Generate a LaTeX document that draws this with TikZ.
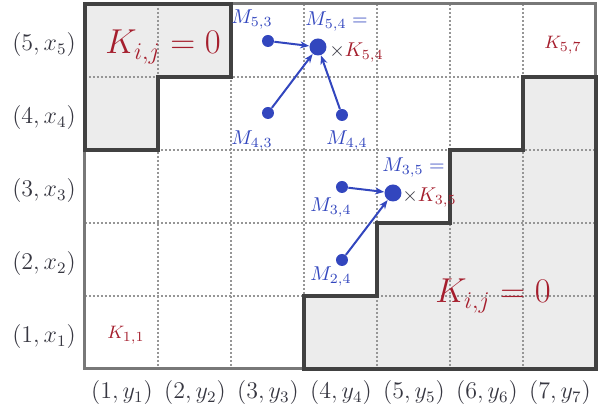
\documentclass[tikz,border=0pt]{standalone}
\usetikzlibrary{arrows.meta}
\definecolor{mblue}{RGB}{50,70,190}
\definecolor{kred}{RGB}{165,30,45}
\definecolor{zfill}{RGB}{236,236,236}
\definecolor{edgegray}{RGB}{120,120,120}
\definecolor{stairgray}{RGB}{65,65,65}
\definecolor{gridgray}{RGB}{150,150,150}
\definecolor{axistext}{RGB}{55,55,65}
\begin{document}
\begin{tikzpicture}[x=0.5pt,y=-0.5pt,
  gridline/.style={gridgray, densely dotted, line width=1pt},
  border/.style={edgegray, line width=1.5pt},
  stair/.style={stairgray, line width=1.6pt, line join=miter},
  smalldot/.style={circle, fill=mblue, inner sep=0pt, minimum size=6pt},
  bigdot/.style={circle, fill=mblue, inner sep=0pt, minimum size=8.5pt},
  conn/.style={mblue, line width=1pt, -{Stealth[length=4.5pt,width=3.5pt]}},
  axlabel/.style={text=axistext, font=\fontsize{11.5}{13}\selectfont, inner sep=0pt},
  mlabel/.style={text=mblue, font=\fontsize{10}{12}\selectfont, inner sep=0pt},
  klabel/.style={text=kred, font=\fontsize{9.5}{11}\selectfont, inner sep=0pt},
  kbig/.style={text=kred, font=\fontsize{17}{20}\selectfont, inner sep=0pt},
  ktimes/.style={text=axistext, font=\fontsize{10}{12}\selectfont, inner sep=0pt}
]
\useasboundingbox (0,0) rectangle (602,410);
% zero regions
\fill[zfill] (85,150) -- (85,4) -- (231,4) -- (231,77) -- (158,77) -- (158,150) -- cycle;
\fill[zfill] (304,369) -- (304,296) -- (377,296) -- (377,223) -- (450,223) -- (450,150)
  -- (523,150) -- (523,77) -- (596,77) -- (596,369) -- cycle;
% grid
\foreach \x in {158,231,304,377,450,523} \draw[gridline] (\x,4) -- (\x,369);
\foreach \y in {77,150,223,296} \draw[gridline] (85,\y) -- (596,\y);
% border
\draw[border] (85,4) rectangle (596,369);
% staircases
\draw[stair] (85,150) -- (85,4) -- (231,4) -- (231,77) -- (158,77) -- (158,150) -- cycle;
\draw[stair] (304,369) -- (304,296) -- (377,296) -- (377,223) -- (450,223) -- (450,150)
  -- (523,150) -- (523,77) -- (596,77) -- (596,369) -- cycle;
% row labels
\node[axlabel] (r5) at (44,45) {$(5,x_5)$};
\node[axlabel] (r4) at (44,118) {$(4,x_4)$};
\node[axlabel] (r3) at (44,191) {$(3,x_3)$};
\node[axlabel] (r2) at (44,264) {$(2,x_2)$};
\node[axlabel] (r1) at (44,337) {$(1,x_1)$};
% column labels
\node[axlabel] (c1) at (122,393) {$(1,y_1)$};
\node[axlabel] (c2) at (195,393) {$(2,y_2)$};
\node[axlabel] (c3) at (268,393) {$(3,y_3)$};
\node[axlabel] (c4) at (341,393) {$(4,y_4)$};
\node[axlabel] (c5) at (414,393) {$(5,y_5)$};
\node[axlabel] (c6) at (487,393) {$(6,y_6)$};
\node[axlabel] (c7) at (560,393) {$(7,y_7)$};
% K labels
\node[kbig] (kz1) at (163,47) {$K_{i,j}=0$};
\node[kbig] (kz2) at (493,296) {$K_{i,j}=0$};
\node[klabel] (k11) at (126,335) {$K_{1,1}$};
\node[klabel] (k57) at (563,45) {$K_{5,7}$};
% dots
\node[smalldot] (d53) at (268,41) {};
\node[bigdot] (d54) at (318,47) {};
\node[smalldot] (d43) at (268,113) {};
\node[smalldot] (d44) at (342,115) {};
\node[bigdot] (d35) at (393,193) {};
\node[smalldot] (d34) at (342,187) {};
\node[smalldot] (d24) at (342,260) {};
% arrows
\draw[conn] (d53) -- (d54);
\draw[conn] (d43) -- (d54);
\draw[conn] (d44) -- (d54);
\draw[conn] (d34) -- (d35);
\draw[conn] (d24) -- (d35);
% M labels
\node[mlabel] (l53) at (252,20) {$M_{5,3}$};
\node[mlabel] (l43) at (252,141) {$M_{4,3}$};
\node[mlabel] (l44) at (347,141) {$M_{4,4}$};
\node[mlabel, anchor=west] (l54) at (305,22) {$M_{5,4}=$};
\node[ktimes, anchor=west] (t54) at (329,53) {$\times\textcolor{kred}{K_{5,4}}$};
\node[mlabel, anchor=west] (l35) at (382,168) {$M_{3,5}=$};
\node[ktimes, anchor=west] (t35) at (402,198) {$\times\textcolor{kred}{K_{3,5}}$};
\node[mlabel] (l34) at (331,208) {$M_{3,4}$};
\node[mlabel] (l24) at (331,277) {$M_{2,4}$};
\end{tikzpicture}
\end{document}
